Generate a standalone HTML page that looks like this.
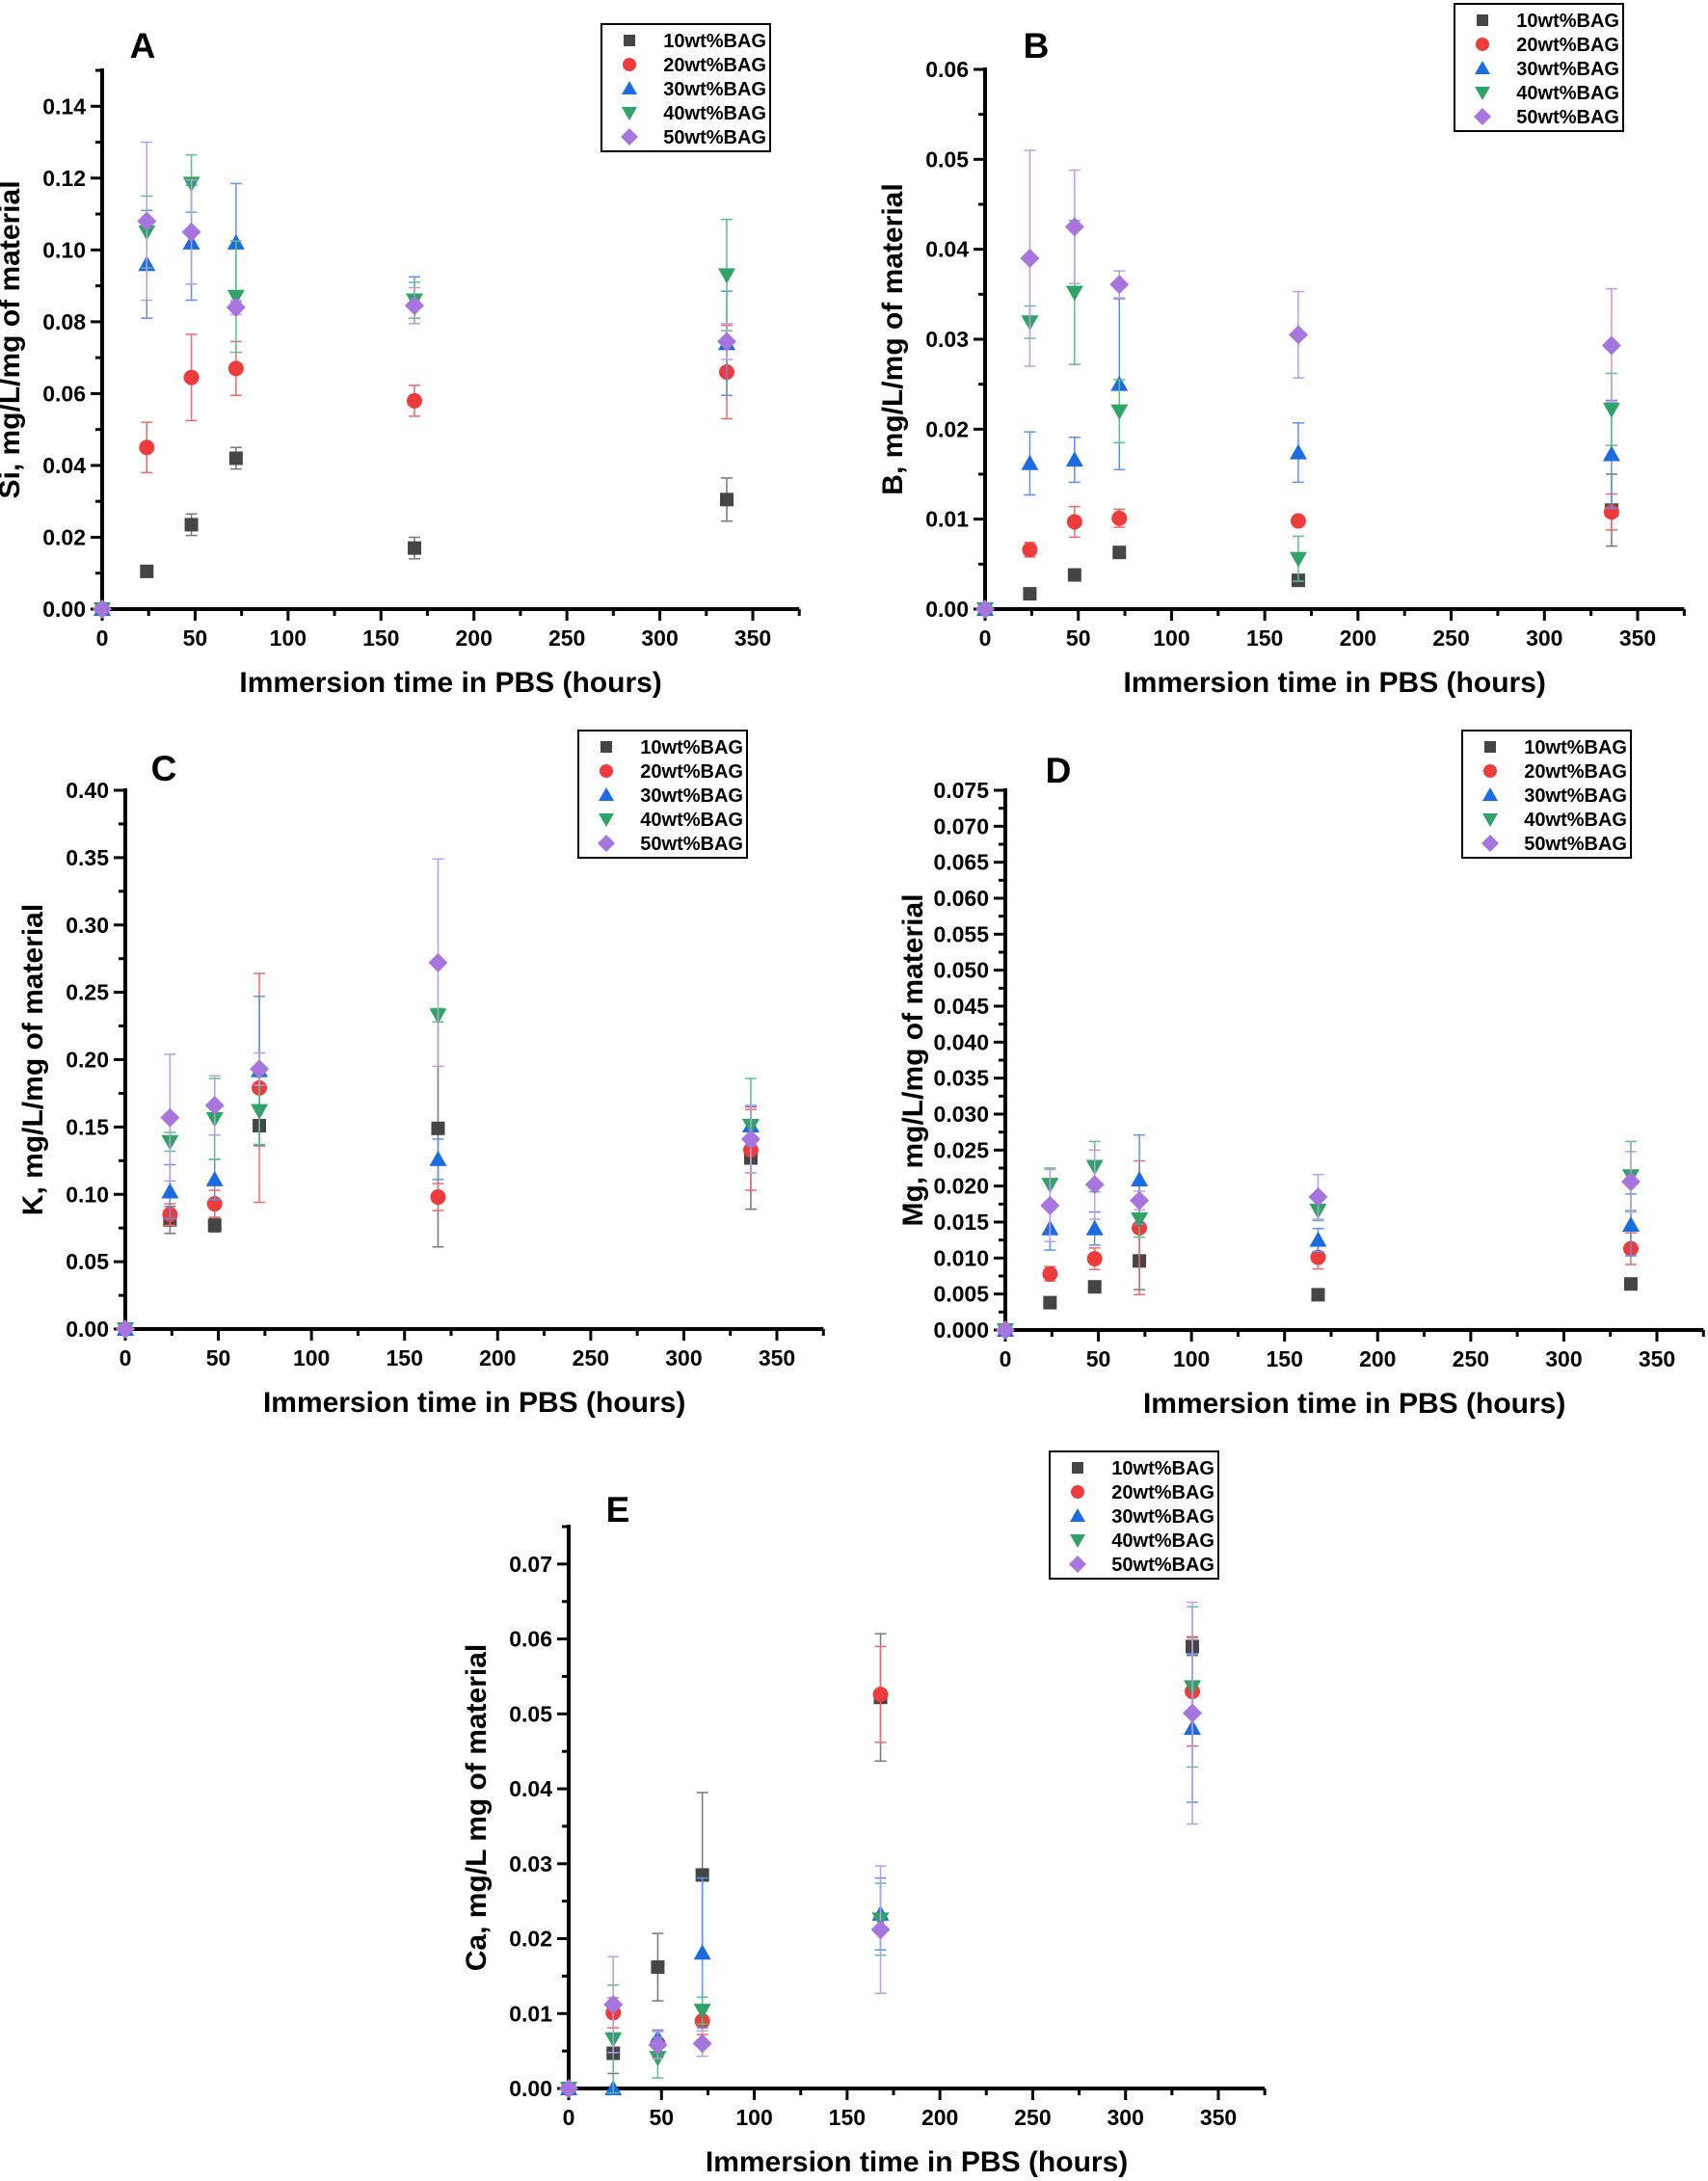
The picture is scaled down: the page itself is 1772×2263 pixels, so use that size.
<!DOCTYPE html>
<html><head><meta charset="utf-8"><style>
html,body{margin:0;padding:0;background:#fff;}
svg{display:block;font-family:"Liberation Sans",sans-serif;font-weight:bold;}
</style></head><body>
<svg id="fig" width="1772" height="2263" viewBox="0 0 1772 2263" xmlns="http://www.w3.org/2000/svg"></svg>
<script>
const hours = [0, 24, 48, 72, 168, 336];
const seriesNames = ["10wt%BAG", "20wt%BAG", "30wt%BAG", "40wt%BAG", "50wt%BAG"];
const xTicks = [0, 50, 100, 150, 200, 250, 300, 350];
// Panel A: Si
const siVals = [[0,.0105,.0235,.042,.017,.0305],[0,.045,.0645,.067,.058,.066],[0,.096,.102,.102,.086,.074],[0,.105,.1185,.087,.086,.093],[0,.108,.105,.084,.0845,.0745]];
const siErr = [[0,.0015,.003,.003,.003,.006],[0,.007,.012,.0075,.0043,.013],[0,.015,.016,.0165,.0065,.0145],[0,.01,.008,.0155,.005,.0155],[0,.022,.0145,.002,.005,.005]];
const siTicks = ["0.00","0.02","0.04","0.06","0.08","0.10","0.12","0.14"];
// Panel B: B
const bVals = [[0,.0017,.0038,.0063,.0032,.011],[0,.0066,.0097,.0101,.0098,.0108],[0,.0162,.0166,.025,.0174,.0172],[0,.0319,.0352,.022,.0056,.0222],[0,.039,.0425,.0361,.0305,.0293]];
const bErr = [[0,.0003,.0003,.0003,.0003,.004],[0,.0008,.0017,.001,.0005,.002],[0,.0035,.0025,.0095,.0033,.006],[0,.0018,.008,.0035,.0025,.004],[0,.012,.0063,.0015,.0048,.0063]];
const bTicks = ["0.00","0.01","0.02","0.03","0.04","0.05","0.06"];
// Panel C: K
const kVals = [[0,.081,.077,.151,.149,.127],[0,.085,.093,.179,.098,.133],[0,.102,.111,.192,.126,.151],[0,.139,.156,.162,.233,.151],[0,.157,.166,.193,.272,.141]];
const kErr = [[0,.01,.005,.015,.088,.038],[0,.008,.01,.085,.01,.03],[0,.02,.015,.055,.015,.015],[0,.007,.03,.025,.005,.035],[0,.047,.022,.012,.077,.025]];
const kTicks = ["0.00","0.05","0.10","0.15","0.20","0.25","0.30","0.35","0.40"];
// Panel D: Mg
const mgVals = [[0,.0038,.006,.0096,.0049,.0064],[0,.0078,.0099,.0142,.0101,.0113],[0,.0141,.0141,.0209,.0125,.0146],[0,.0202,.0227,.0154,.0166,.0214],[0,.0173,.0202,.018,.0185,.0206]];
const mgErr = [[0,.0004,.0003,.004,.0003,.0007],[0,.001,.0015,.0093,.0016,.0022],[0,.003,.0023,.0062,.0016,.0043],[0,.0023,.0035,.0025,.0014,.0048],[0,.005,.0048,.0013,.0031,.0042]];
const mgTicks = ["0.000","0.005","0.010","0.015","0.020","0.025","0.030","0.035","0.040","0.045","0.050","0.055","0.060","0.065","0.070","0.075"];
// Panel E: Ca
const caVals = [[0,.0047,.0162,.0285,.0522,.059],[0,.0101,.006,.009,.0526,.053],[0,0,.0067,.0181,.0233,.0481],[0,.0066,.0041,.0104,.0226,.0536],[0,.0112,.0058,.006,.0212,.0501]];
const caErr = [[0,.0027,.0045,.011,.0085,.0012],[0,.002,.0018,.0018,.0064,.0073],[0,0,.001,.01,.0048,.0099],[0,.0072,.0027,.0018,.0048,.0107],[0,.0064,.0018,.0017,.0085,.0148]];
const caTicks = ["0.00","0.01","0.02","0.03","0.04","0.05","0.06","0.07"];

const colors = ["#454545","#ee3b3b","#1d6be0","#2fa466","#a775de"];
const errColors = ["#777","#f06868","#5b93ea","#5cbf8a","#bf9ae8"];
const NS = "http://www.w3.org/2000/svg";
const svg = document.getElementById("fig");
function mk(tag, attrs, parent, text){
  const e = document.createElementNS(NS, tag);
  for (const k in attrs) e.setAttribute(k, attrs[k]);
  if (text !== undefined) e.textContent = text;
  (parent || svg).appendChild(e);
  return e;
}
function marker(g, kind, cx, cy, s, color){
  let e;
  if (kind === 0) e = mk("rect", {x:cx-s, y:cy-s, width:2*s, height:2*s, fill:color}, g);
  else if (kind === 1) e = mk("circle", {cx:cx, cy:cy, r:s+1, fill:color}, g);
  else if (kind === 2) e = mk("polygon", {points:`${cx},${cy-s-2} ${cx-s-2},${cy+s} ${cx+s+2},${cy+s}`, fill:color}, g);
  else if (kind === 3) e = mk("polygon", {points:`${cx},${cy+s+2} ${cx-s-2},${cy-s} ${cx+s+2},${cy-s}`, fill:color}, g);
  else e = mk("polygon", {points:`${cx},${cy-s-3} ${cx+s+3},${cy} ${cx},${cy+s+3} ${cx-s-3},${cy}`, fill:color}, g);
  return e;
}
function panel(cfg){
  const g = mk("g", {});
  
  
  const xs = h => cfg.x0 + h * cfg.pxh;
  const ys = v => cfg.y0 - v * (cfg.y0 - cfg.ytop) / cfg.ymax;
  const n = cfg.ticks.length;
  for (let i = 0; i < n; i++){
    const v = parseFloat(cfg.ticks[i]);
    const t = mk("line", {x1:cfg.x0-12, x2:cfg.x0, y1:ys(v), y2:ys(v), stroke:"#000", "stroke-width":3}, g);
    
    
    const lb = mk("text", {x:cfg.x0-17, y:ys(v)+8, "text-anchor":"end", "font-size":23}, g, cfg.ticks[i]);
    
    
    const mv = v + cfg.step/2;
    if (mv <= cfg.ymax + 1e-9) {
      mk("line", {x1:cfg.x0-7, x2:cfg.x0, y1:ys(mv), y2:ys(mv), stroke:"#000", "stroke-width":3}, g);
    }
  }
  for (let i = 0; i < xTicks.length; i++){
    const x = xs(xTicks[i]);
    const t = mk("line", {x1:x, x2:x, y1:cfg.y0, y2:cfg.y0+12, stroke:"#000", "stroke-width":3}, g);
    
    
    mk("line", {x1:xs(xTicks[i]+25), x2:xs(xTicks[i]+25), y1:cfg.y0, y2:cfg.y0+7, stroke:"#000", "stroke-width":3}, g);
    const lb = mk("text", {x:x, y:cfg.y0+38, "text-anchor":"middle", "font-size":23}, g, String(xTicks[i]));
    
    
  }
  const ya = mk("line", {x1:cfg.x0, x2:cfg.x0, y1:cfg.ytop-2, y2:cfg.y0+2, stroke:"#000", "stroke-width":4}, g);
  
  
  const xa = mk("line", {x1:cfg.x0-2, x2:xs(375), y1:cfg.y0, y2:cfg.y0, stroke:"#000", "stroke-width":4}, g);
  
  
  const xt = mk("text", {x:xs(187.5), y:cfg.y0+86, "text-anchor":"middle", "font-size":30}, g, "Immersion time in PBS (hours)");
  
  
  const ymid = (cfg.y0 + cfg.ytop) / 2;
  const yt = mk("text", {x:0, y:0, "text-anchor":"middle", "font-size":30, transform:`translate(${cfg.x0-86},${ymid}) rotate(-90)`}, g, cfg.ytitle);
  
  
  const pl = mk("text", {x:cfg.lx, y:cfg.ly+13, "text-anchor":"middle", "font-size":37}, g, cfg.id);
  
  
  for (let s = 0; s < 5; s++){
    for (let i = 0; i < hours.length; i++){
      const v = cfg.vals[s][i], e = cfg.err[s][i], x = xs(hours[i]);
      if (e > 0){
        const eb = mk("g", {stroke:errColors[s], "stroke-width":1.5}, g);
        
        
        mk("line", {x1:x, x2:x, y1:ys(v+e), y2:ys(v-e)}, eb);
        mk("line", {x1:x-6, x2:x+6, y1:ys(v+e), y2:ys(v+e)}, eb);
        mk("line", {x1:x-6, x2:x+6, y1:ys(v-e), y2:ys(v-e)}, eb);
      }
      const m = marker(g, s, x, ys(v), 7, colors[s]);
      
      
    }
  }
  const lg = mk("g", {}, g);
  
  
  mk("rect", {x:cfg.legx, y:cfg.legy, width:175, height:132, fill:"#fff", stroke:"#000", "stroke-width":2}, lg);
  for (let s = 0; s < 5; s++){
    const ry = cfg.legy + 17 + s*25;
    const lm = marker(lg, s, cfg.legx+29, ry, 6, colors[s]);
    
    
    const lt = mk("text", {x:cfg.legx+171, y:ry+7, "text-anchor":"end", "font-size":20}, lg, seriesNames[s]);
    
    
  }
}
panel({id:"A", x0:106, y0:632, ytop:73, ymax:0.15, step:0.02, pxh:675/350, ticks:siTicks, vals:siVals, err:siErr, ytitle:"Si, mg/L/mg of material", lx:148, ly:47, legx:624, legy:25});
panel({id:"B", x0:1022, y0:632, ytop:72, ymax:0.06, step:0.01, pxh:677/350, ticks:bTicks, vals:bVals, err:bErr, ytitle:"B, mg/L/mg of material", lx:1075, ly:47, legx:1509, legy:4});
panel({id:"C", x0:130, y0:1379, ytop:820, ymax:0.40, step:0.05, pxh:676/350, ticks:kTicks, vals:kVals, err:kErr, ytitle:"K, mg/L/mg of material", lx:170, ly:797, legx:600, legy:758});
panel({id:"D", x0:1043, y0:1380, ytop:820, ymax:0.075, step:0.005, pxh:676/350, ticks:mgTicks, vals:mgVals, err:mgErr, ytitle:"Mg, mg/L/mg of material", lx:1098, ly:799, legx:1517, legy:758});
panel({id:"E", x0:590, y0:2167, ytop:1584, ymax:0.075, step:0.01, pxh:674/350, ticks:caTicks, vals:caVals, err:caErr, ytitle:"Ca, mg/L mg of material", lx:641, ly:1566, legx:1089, legy:1506});
</script>
</body></html>
